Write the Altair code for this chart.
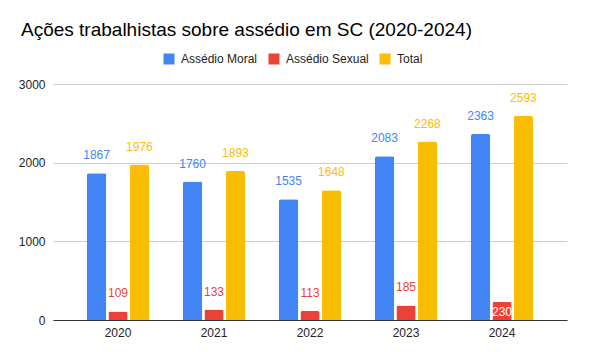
import altair as alt
import pandas as pd

anos = ["2020", "2021", "2022", "2023", "2024"]
series = ["Assédio Moral", "Assédio Sexual", "Total"]
moral = [1867, 1760, 1535, 2083, 2363]
sexual = [109, 133, 113, 185, 230]
total = [1976, 1893, 1648, 2268, 2593]
cores = ["#4285F4", "#EA4335", "#FBBC04"]

rows = []
for s, vals in zip(series, [moral, sexual, total]):
    for a, v in zip(anos, vals):
        rows.append({"ano": a, "serie": s, "valor": v})
df = pd.DataFrame(rows)

FONT = "Liberation Sans"

x = alt.X("ano:N", title=None, sort=anos,
          scale=alt.Scale(paddingInner=0.354, paddingOuter=0.354),
          axis=alt.Axis(labelAngle=0, ticks=False, domainColor="#333333",
                        labelFontSize=12, labelColor="#222222", labelPadding=7,
                        labelFont=FONT))
xo = alt.XOffset("serie:N", sort=series, scale=alt.Scale(paddingInner=0.1))
y = alt.Y("valor:Q", title=None,
          scale=alt.Scale(domain=[0, 3000], nice=False),
          axis=alt.Axis(values=[0, 1000, 2000, 3000], format="d", domain=False, ticks=False,
                        gridColor="#cccccc", labelFontSize=12, labelColor="#222222",
                        labelPadding=8, labelFont=FONT))
color = alt.Color("serie:N", sort=series,
                  scale=alt.Scale(domain=series, range=cores),
                  legend=alt.Legend(title=None, orient="none", direction="horizontal",
                                    legendX=110, legendY=-31, symbolType="square",
                                    symbolSize=121, symbolStrokeWidth=0,
                                    symbolOpacity=1, labelFontSize=12,
                                    labelColor="#222222", labelFont=FONT,
                                    columnPadding=10, labelOffset=6))

base = alt.Chart(df)

bars = base.mark_bar(cornerRadiusTopLeft=2, cornerRadiusTopRight=2).encode(
    x=x, xOffset=xo, y=y, color=color)

is_inside = "datum.serie == 'Assédio Sexual' && datum.ano == '2024'"

labels = base.transform_filter("!(" + is_inside + ")").mark_text(
    baseline="middle", dy=-18, fontSize=12, font=FONT).encode(
    x=x, xOffset=xo, y=y, text="valor:Q",
    color=alt.Color("serie:N", sort=series, scale=alt.Scale(domain=series, range=cores), legend=None))

inside = base.transform_filter(is_inside).mark_text(
    baseline="middle", dy=10, fontSize=12, font=FONT, color="white").encode(
    x=x, xOffset=xo, y=y, text="valor:Q")

chart = alt.layer(bars, labels, inside).properties(
    width=514, height=236,
    autosize=alt.AutoSizeParams(type="none"),
    padding={"left": 53, "top": 84, "right": 22, "bottom": 32},
    title=alt.TitleParams("Ações trabalhistas sobre assédio em SC (2020-2024)",
                          anchor="start", frame="group", dx=-32, offset=13,
                          fontSize=19, fontWeight="normal", font=FONT, color="#000000"),
).configure_view(stroke=None)

chart.save("out.html", embed_options={"renderer": "svg", "actions": False})
